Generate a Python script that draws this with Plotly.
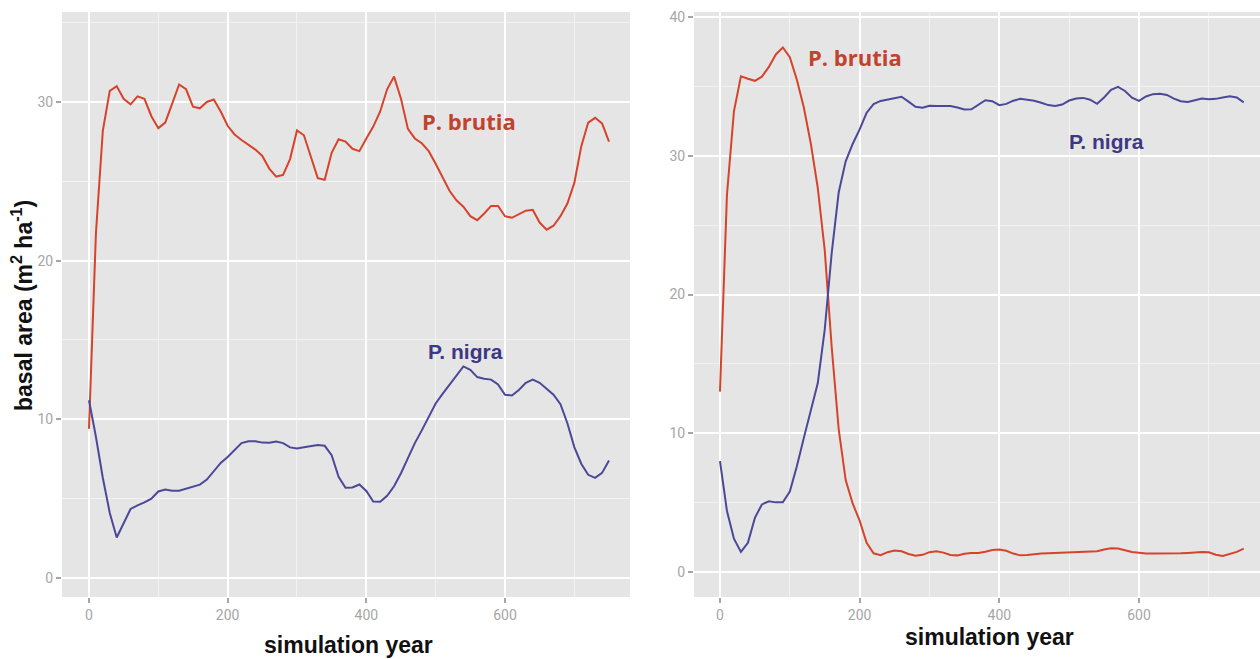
import plotly.graph_objects as go

years = list(range(0, 751, 10))

left_brutia = [9.4, 21.7, 28.2, 30.7, 31.0, 30.2, 29.85, 30.35, 30.2, 29.1,
               28.35, 28.7, 29.9, 31.1, 30.8, 29.7, 29.6, 30.0, 30.15, 29.4,
               28.5, 27.95, 27.6, 27.3, 27.0, 26.6, 25.8, 25.3, 25.4, 26.4,
               28.2, 27.9, 26.6, 25.2, 25.1, 26.8, 27.65, 27.5, 27.05, 26.9,
               27.7, 28.45, 29.4, 30.8, 31.6, 30.2, 28.3, 27.7, 27.4, 26.9,
               26.1, 25.2, 24.4, 23.8, 23.4, 22.8, 22.55, 22.97, 23.45, 23.45,
               22.8, 22.7, 22.9, 23.15, 23.2, 22.4, 21.95, 22.2, 22.8, 23.6,
               24.9, 27.2, 28.7, 29.0, 28.65, 27.5]

left_nigra = [11.2, 8.9, 6.3, 4.1, 2.55, 3.4, 4.35, 4.58, 4.76, 5.0,
              5.45, 5.58, 5.5, 5.5, 5.63, 5.77, 5.88, 6.2, 6.7, 7.25,
              7.63, 8.1, 8.5, 8.62, 8.61, 8.53, 8.52, 8.6, 8.5, 8.23,
              8.16, 8.24, 8.32, 8.38, 8.33, 7.74, 6.37, 5.68, 5.7, 5.89,
              5.48, 4.82, 4.8, 5.18, 5.78, 6.6, 7.55, 8.5, 9.3, 10.15,
              11.0, 11.6, 12.2, 12.77, 13.33, 13.12, 12.66, 12.56, 12.5, 12.2,
              11.55, 11.5, 11.85, 12.3, 12.5, 12.3, 11.95, 11.55, 10.95, 9.75,
              8.25, 7.2, 6.5, 6.31, 6.62, 7.4]

right_brutia = [13.0, 27.2, 33.2, 35.73, 35.55, 35.4, 35.7, 36.4, 37.3, 37.8,
                37.1, 35.5, 33.5, 30.9, 27.7, 23.2, 16.2, 10.3, 6.63, 4.94,
                3.7, 2.1, 1.35, 1.22, 1.43, 1.55, 1.5, 1.3, 1.17, 1.24,
                1.43, 1.49, 1.4, 1.23, 1.2, 1.32, 1.37, 1.37, 1.46, 1.58,
                1.63, 1.53, 1.33, 1.2, 1.22, 1.3, 1.33, 1.35, 1.37, 1.39,
                1.43, 1.45, 1.48, 1.51, 1.5, 1.62, 1.72, 1.69, 1.57, 1.45,
                1.39, 1.33, 1.33, 1.33, 1.31, 1.3, 1.35, 1.38, 1.42, 1.45,
                1.42, 1.25, 1.16, 1.28, 1.45, 1.69]

right_nigra = [8.0, 4.4, 2.4, 1.45, 2.1, 3.9, 4.87, 5.1, 5.02, 5.02,
               5.8, 7.6, 9.65, 11.6, 13.6, 17.47, 23.0, 27.35, 29.6, 30.85,
               31.9, 33.1, 33.72, 33.95, 34.05, 34.2, 34.25, 33.9, 33.53, 33.46,
               33.6, 33.58, 33.57, 33.59, 33.48, 33.34, 33.35, 33.69, 34.0, 33.93,
               33.65, 33.74, 33.97, 34.1, 34.05, 33.97, 33.82, 33.65, 33.59, 33.69,
               33.98, 34.12, 34.17, 34.04, 33.74, 34.2, 34.75, 34.96, 34.67, 34.19,
               33.95, 34.27, 34.44, 34.47, 34.38, 34.12, 33.93, 33.87, 34.0, 34.12,
               34.07, 34.1, 34.2, 34.28, 34.2, 33.85]

RED = "#D6432B"
BLUE = "#4C4898"
RED_TXT = "#C0432E"
BLUE_TXT = "#3D3884"
BG = "#E5E5E5"
TICK = "#A6A6A6"

W, H = 1260, 659

fig = go.Figure()
fig.add_trace(go.Scatter(x=years, y=left_brutia, mode="lines",
                         line=dict(color=RED, width=2), xaxis="x", yaxis="y"))
fig.add_trace(go.Scatter(x=years, y=left_nigra, mode="lines",
                         line=dict(color=BLUE, width=2), xaxis="x", yaxis="y"))
fig.add_trace(go.Scatter(x=years, y=right_brutia, mode="lines",
                         line=dict(color=RED, width=2), xaxis="x2", yaxis="y2"))
fig.add_trace(go.Scatter(x=years, y=right_nigra, mode="lines",
                         line=dict(color=BLUE, width=2), xaxis="x2", yaxis="y2"))

ydom = [62 / H, 647 / H]
tickfont = dict(family="Liberation Sans Narrow, Roboto, sans-serif", size=14, color=TICK)


def xax(domain, rng, anchor):
    return dict(domain=domain, range=rng, anchor=anchor, tick0=0, dtick=200,
                showgrid=True, gridcolor="white", gridwidth=1.6,
                minor=dict(tick0=100, dtick=200, showgrid=True, gridcolor="#F2F2F2",
                           gridwidth=1, ticks=""),
                zeroline=False, showline=False,
                ticks="outside", ticklen=5, tickwidth=1.5, tickcolor=TICK,
                tickfont=tickfont, automargin=False, fixedrange=True)


def yax(domain, rng, anchor, dtick):
    return dict(domain=domain, range=rng, anchor=anchor, tick0=0, dtick=dtick,
                showgrid=True, gridcolor="white", gridwidth=1.6,
                minor=dict(tick0=dtick / 2, dtick=dtick, showgrid=True, gridcolor="#F2F2F2",
                           gridwidth=1, ticks=""),
                zeroline=False, showline=False,
                ticks="outside", ticklen=5, tickwidth=1.5, tickcolor=TICK,
                tickfont=tickfont, automargin=False, fixedrange=True)


fig.update_layout(
    width=W, height=H,
    margin=dict(l=0, r=0, t=0, b=0),
    paper_bgcolor="white", plot_bgcolor=BG,
    showlegend=False,
    xaxis=xax([62 / W, 630 / W], [-38.9, 780.3], "y"),
    yaxis=yax(ydom, [-1.2, 35.67], "x", 10),
    xaxis2=xax([694 / W, 1.0], [-37.2, 773.3], "y2"),
    yaxis2=yax(ydom, [-1.8, 40.36], "x2", 10),
)

title_font = dict(family="Liberation Sans, Arial, sans-serif", size=23, color="#111111")
brutia_font = dict(family="Open Sans, Lato, sans-serif", size=22, color=RED_TXT)
nigra_font = dict(family="Liberation Sans, Arial, sans-serif", size=21, color=BLUE_TXT)

annotations = [
    dict(text="<b>simulation year</b>", x=348 / W, y=1 - 645 / H, xref="paper", yref="paper",
         showarrow=False, font=title_font, xanchor="center", yanchor="middle"),
    dict(text="<b>simulation year</b>", x=989 / W, y=1 - 637 / H, xref="paper", yref="paper",
         showarrow=False, font=title_font, xanchor="center", yanchor="middle"),
    dict(text="<b>basal area (m<sup>2</sup> ha<sup>-1</sup>)</b>", x=22 / W, y=1 - 306 / H,
         xref="paper", yref="paper", textangle=-90,
         showarrow=False, font=title_font, xanchor="center", yanchor="middle"),
    dict(text="<b>P. brutia</b>", x=469 / W, y=1 - 121 / H, xref="paper", yref="paper",
         showarrow=False, font=brutia_font, xanchor="center", yanchor="middle"),
    dict(text="<b>P. nigra</b>", x=465 / W, y=1 - 351 / H, xref="paper", yref="paper",
         showarrow=False, font=nigra_font, xanchor="center", yanchor="middle"),
    dict(text="<b>P. brutia</b>", x=855 / W, y=1 - 57 / H, xref="paper", yref="paper",
         showarrow=False, font=brutia_font, xanchor="center", yanchor="middle"),
    dict(text="<b>P. nigra</b>", x=1106 / W, y=1 - 141 / H, xref="paper", yref="paper",
         showarrow=False, font=nigra_font, xanchor="center", yanchor="middle"),
]
fig.update_layout(annotations=annotations)

fig.write_html("out.html",
               config={"displayModeBar": False},
               post_script="document.body.style.margin='0';document.body.style.overflow='hidden';")
